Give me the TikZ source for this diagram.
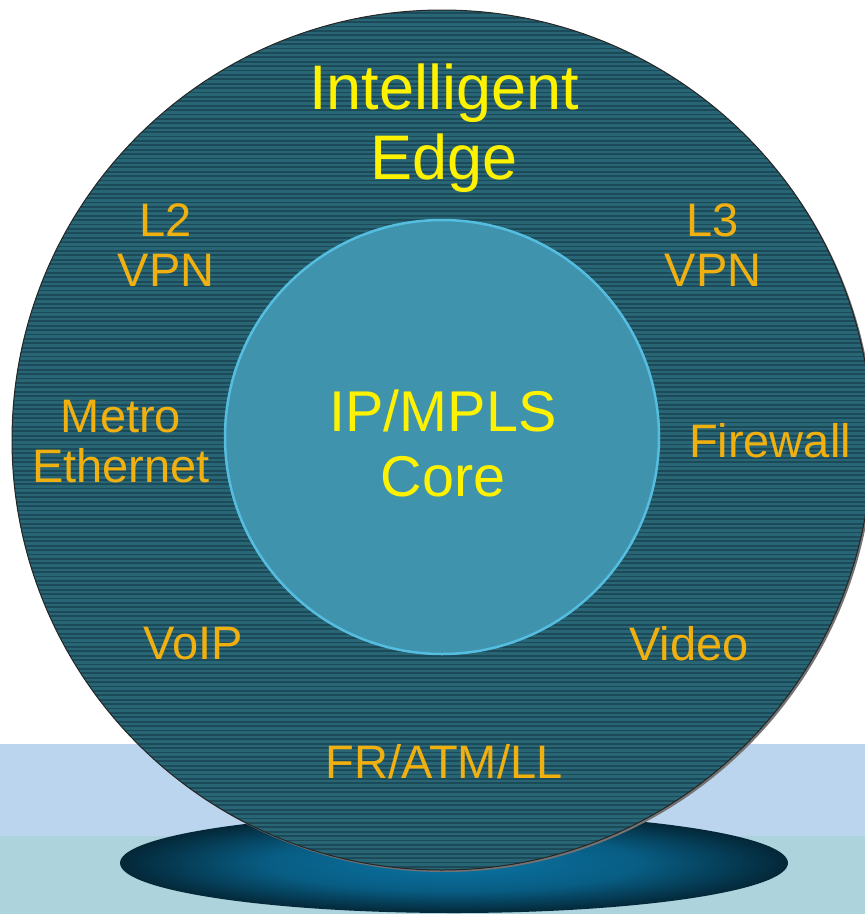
\documentclass[tikz,border=0pt]{standalone}
\usepackage{fontspec}
\setmainfont{Liberation Sans}
\usepackage{tikz}
\definecolor{edgeteal}{HTML}{286575}
\definecolor{edgestripe}{HTML}{1D4A58}
\definecolor{coreteal}{HTML}{3F93AD}
\definecolor{corerim}{HTML}{55BDE0}
\definecolor{labelorange}{HTML}{F0B010}
\definecolor{skyband}{HTML}{BCD5EE}
\definecolor{floorband}{HTML}{ADD3DC}
\definecolor{glowblue}{HTML}{0A74A4}
\pgfdeclareradialshading{shadowglow}{\pgfpoint{0bp}{0bp}}{%
  color(0bp)=(glowblue); color(14bp)=(glowblue!80!black);%
  color(33bp)=(black); color(50bp)=(black)}
\tikzset{%
  service/.style = {text=labelorange, align=center,%
                    font=\fontsize{47}{50}\selectfont},%
  title/.style   = {text=yellow, align=center,%
                    font=\fontsize{63}{70}\selectfont},%
  core/.style    = {text=yellow, align=center,%
                    font=\fontsize{57.5}{65}\selectfont}%
}
\begin{document}
\begin{tikzpicture}[x=1pt, y=-1pt]
  \useasboundingbox (0,0) rectangle (865,914);
  % floor bands
  \fill[skyband] (0,744) rectangle (865,836);
  \fill[floorband] (0,836) rectangle (865,914);
  \shade[shading=shadowglow] (454,863) ellipse [x radius=334, y radius=50];
  % edge ring
  \fill[black!55] (444,442) circle (430);
  \fill[edgeteal] (442,440) circle (430);
  \begin{scope}
    \clip (442,440) circle (430);
    \foreach \i in {0,...,196}
      \fill[edgestripe] (0,{8+4.4*\i}) rectangle (880,{9.8+4.4*\i});
  \end{scope}
  \draw[black!85, line width=1pt] (442,440) circle (430);
  % core
  \filldraw[fill=coreteal, draw=corerim, line width=2.5pt] (442,437) circle (217);
  \node[title] (edge)     at (444,128) {Intelligent\\Edge};
  \node[core]  (mpls)     at (443,443) {IP/MPLS\\Core};
  \node[service] (ltwo)   at (166,245) {L2\\VPN};
  \node[service] (lthree) at (713,245) {L3\\VPN};
  \node[service] (metro)  at (121,442) {Metro\\Ethernet};
  \node[service] (fw)     at (770,441) {Firewall};
  \node[service] (voip)   at (193,644) {VoIP};
  \node[service] (video)  at (689,644) {Video};
  \node[service] (legacy) at (444,762) {FR/ATM/LL};
\end{tikzpicture}
\end{document}
